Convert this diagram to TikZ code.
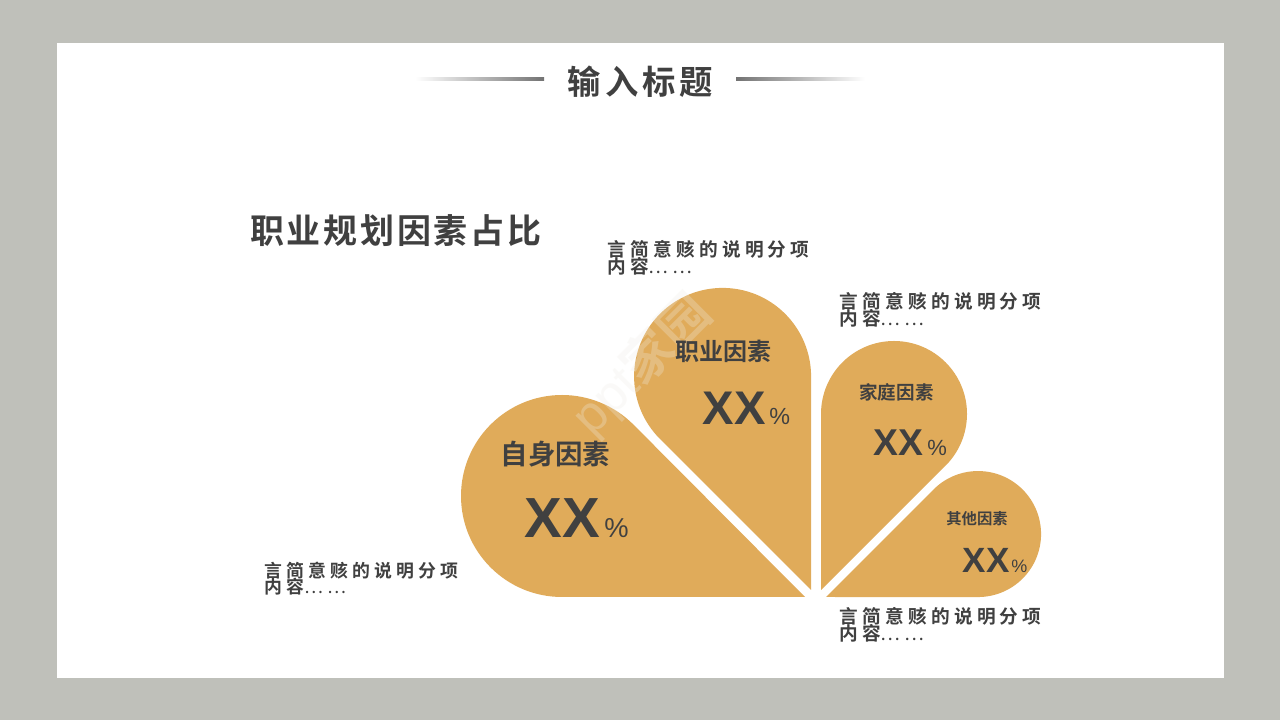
\documentclass[tikz,border=0pt]{standalone}
\usepackage{fontspec}
\usetikzlibrary{positioning}
\setsansfont{Liberation Sans}
\newfontfamily\cjk{Noto Sans CJK SC Bold}
\newfontfamily\cjknote[LetterSpace=23]{Noto Sans CJK SC Bold}
\newfontfamily\cjkdots[LetterSpace=23]{Noto Sans CJK SC}
\newfontfamily\cjktitle[LetterSpace=12]{Noto Sans CJK SC Bold}
\newfontfamily\cjkhead[LetterSpace=8]{Noto Sans CJK SC Bold}
\definecolor{framegrey}{HTML}{BFC0BA}
\definecolor{petalgold}{HTML}{E0AB5A}
\definecolor{inkgrey}{HTML}{404040}
\definecolor{markgrey}{HTML}{EFEDE6}
\newcommand{\notetext}{言简意赅的说明分项\\[-1.7pt]内容{\cjkdots ……}}

\begin{document}
\begin{tikzpicture}[x=0.75pt, y=0.75pt,
		petal/.style = {fill=petalgold},
		every node/.style = {text=inkgrey, inner sep=0pt},
		note/.style = {align=left, anchor=north west, font=\cjknote\fontsize{14pt}{12.8pt}\selectfont},
		factor/.style = {anchor=center},
		share/.style = {anchor=base west},
		pct/.style = {anchor=base west}]
	% page and white sheet
	\fill[framegrey] (0,0) rectangle (1280,720);
	\fill[white] (57,42) rectangle (1224,677);
	\useasboundingbox (0,0) rectangle (1280,720);
	% title with its two fading rules
	\fill[left color=white, right color=black!55] (415,639.5) rectangle (544,642.5);
	\fill[left color=black!55, right color=white] (736,639.5) rectangle (865,642.5);
	\node[font=\cjktitle\fontsize{25pt}{25pt}\selectfont] (title) at (640.5,638) {输入标题};
	\node[anchor=west, font=\cjkhead\fontsize{25.5pt}{25.5pt}\selectfont] (heading) at (250,489) {职业规划因素占比};
	% petals
	\fill[petal] (805,123) -- (562,123) arc[start angle=270, end angle=45, radius=101] -- cycle;
	\fill[petal] (811,130) -- (660,281) arc[start angle=225, end angle=0, radius=88.5] -- cycle;
	\fill[petal] (821,130) -- (821,306) arc[start angle=180, end angle=-45, radius=73] -- cycle;
	\fill[petal] (826,123) -- (933.5,230.5) arc[start angle=135, end angle=-90, radius=63] -- cycle;
	% faint site mark
	\node[rotate=45, text=markgrey, opacity=0.28, font=\sffamily\fontsize{38pt}{38pt}\selectfont] (mark) at (642,355) {ppt{\cjk 家园}};
	% petal labels
	\node[factor, font=\cjk\fontsize{20.6pt}{20.6pt}\selectfont] (self) at (555.5,266) {自身因素};
	\node[share, font=\sffamily\bfseries\fontsize{42.4pt}{42.4pt}\selectfont] (selfxx) at (524.5,182) {XX};
	\node[pct, font=\sffamily\fontsize{20.5pt}{20.5pt}\selectfont] (selfpct) at (604,182) {\%};
	\node[factor, font=\cjk\fontsize{18pt}{18pt}\selectfont] (career) at (723.5,369) {职业因素};
	\node[share, font=\sffamily\bfseries\fontsize{35.4pt}{35.4pt}\selectfont] (careerxx) at (702.5,295) {XX};
	\node[pct, font=\sffamily\fontsize{17.5pt}{17.5pt}\selectfont] (careerpct) at (769,295) {\%};
	\node[factor, font=\cjk\fontsize{13.9pt}{13.9pt}\selectfont] (family) at (896.5,328) {家庭因素};
	\node[share, font=\sffamily\bfseries\fontsize{28pt}{28pt}\selectfont] (familyxx) at (873.5,264) {XX};
	\node[pct, font=\sffamily\fontsize{16.5pt}{16.5pt}\selectfont] (familypct) at (927,264) {\%};
	\node[factor, font=\cjk\fontsize{11.5pt}{11.5pt}\selectfont] (other) at (977,201.5) {其他因素};
	\node[share, font=\sffamily\bfseries\fontsize{26.3pt}{26.3pt}\selectfont] (otherxx) at (962.5,147) {XX};
	\node[pct, font=\sffamily\fontsize{13.5pt}{13.5pt}\selectfont] (otherpct) at (1011,147) {\%};
	% notes round the petals
	\node[note] (notetop) at (607,480) {\notetext};
	\node[note] (noteright) at (839,428) {\notetext};
	\node[note] (notebottom) at (839,113) {\notetext};
	\node[note, font=\cjknote\fontsize{13.4pt}{12.8pt}\selectfont] (noteleft) at (264,158) {\notetext};
\end{tikzpicture}
\end{document}
